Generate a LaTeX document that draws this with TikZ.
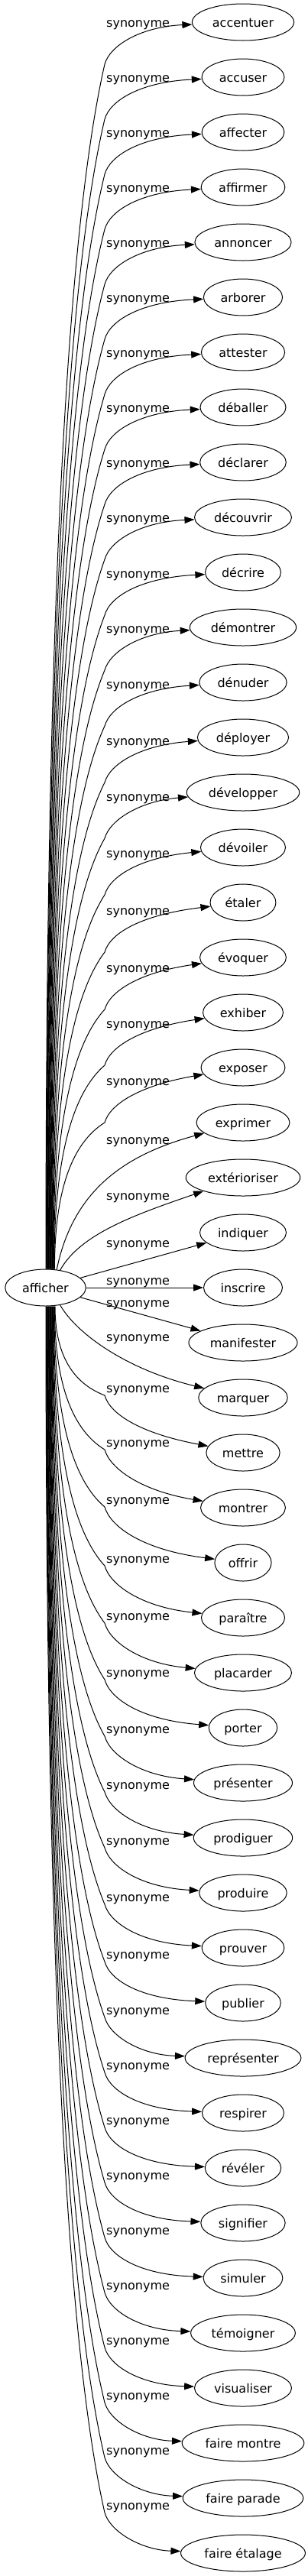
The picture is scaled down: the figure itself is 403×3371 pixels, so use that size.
\documentclass[tikz,border=0pt]{standalone}
\usepackage{fontspec}
\setmainfont{DejaVu Sans}
\usetikzlibrary{arrows.meta,shapes.geometric}
\begin{document}
\begin{tikzpicture}[x=1pt,y=-1pt,
  every node/.style={font=\fontsize{16}{19}\selectfont},
  target/.style={draw, ellipse, line width=1pt, minimum height=48pt, inner xsep=7pt, inner ysep=0pt, text height=12pt, text depth=0pt},
  lab/.style={anchor=base west, inner sep=0pt},
  edge/.style={line width=1pt, -{Triangle[length=13pt,width=9pt]}}]
\useasboundingbox (0,0) rectangle (403,3371);
\node[target] (afficher) at (59.5,1685) {afficher};
\foreach \k/\t in {0/accentuer,1/accuser,2/affecter,3/affirmer,4/annoncer,5/arborer,6/attester,7/déballer,8/déclarer,9/découvrir,10/décrire,11/démontrer,12/dénuder,13/déployer,14/développer,15/dévoiler,16/étaler,17/évoquer,18/exhiber,19/exposer,20/exprimer,21/extérioriser,22/indiquer,23/inscrire,24/manifester,25/marquer,26/mettre,27/montrer,28/offrir,29/paraître,30/placarder,31/porter,32/présenter,33/prodiguer,34/produire,35/prouver,36/publier,37/représenter,38/respirer,39/révéler,40/signifier,41/simuler,42/témoigner,43/visualiser,44/faire montre,45/faire parade,46/faire étalage}
  \node[target] (n\k) at (318,{29+72*\k}) {\t};
\foreach \k/\lo in {0/0,1/0,2/0,3/0,4/0,5/0,6/0,7/0,8/0,9/0,10/1,11/1,12/2,13/4,14/5,15/7,16/10,17/13,18/14,19/17,20/22,21/23,22/13,23/-10,24/-53,25/-80,26/-85,27/-86,28/-83,29/-78,30/-75,31/-73,32/-71,33/-70,34/-69,35/-67,36/-64,37/-63,38/-63,39/-63,40/-63,41/-63,42/-63,43/-63,44/-63,45/-63,46/-63}
  \node[lab] (l\k) at (139,{29+72*\k+(\lo)+6}) {synonyme};
% upper edges
\foreach \k/\lo in {0/0,1/0,2/0,3/0,4/0,5/0,6/0,7/0,8/0,9/0,10/1,11/1,12/2,13/4,14/5,15/7,16/10,17/13,18/14,19/17} {
  \pgfmathsetmacro\eYk{29+72*\k}
  \pgfmathsetmacro\esx{0.5+0.6*\k}
  \pgfmathsetmacro\eSx{59.5+\esx}
  \pgfmathsetmacro\eBy{\eYk+\lo+55}
  \pgfmathsetmacro\eD{1661-\eBy}
  \pgfmathsetmacro\eCay{1661-0.5*\eD}
  \pgfmathsetmacro\eCbx{\eSx+0.3*(137-\eSx)}
  \pgfmathsetmacro\eCby{\eBy+0.15*\eD}
  \pgfmathsetmacro\eCcy{\eBy-25}
  \pgfmathsetmacro\eCdy{\eYk+\lo+6}
  \draw[edge] ([xshift=\esx pt]afficher.north) .. controls (\eSx,\eCay) and (\eCbx,\eCby) .. (137,\eBy) .. controls (144,\eCcy) and (185,\eCdy) .. (n\k);
}
% middle edges
\draw[edge] (afficher.58) .. controls (95,1560) and (160,1512) .. (n20);
\draw[edge] (afficher.50) .. controls (105,1615) and (175,1590) .. (n21);
\draw[edge] (afficher) -- (n22);
\draw[edge] (afficher) -- (n23);
\draw[edge] (afficher) -- (n24);
\draw[edge] (afficher.-50) .. controls (100,1745) and (165,1792) .. (n25);
% lower edges
\foreach \k/\lo/\eo in {26/-85/-25,27/-86/-22,28/-83/-17,29/-78/-14,30/-75/-12,31/-73/-10,32/-71/-9,33/-70/-8,34/-69/-7,35/-67/-6,36/-64/-5,37/-63/-4,38/-63/-4,39/-63/-4,40/-63/-4,41/-63/-4,42/-63/-4,43/-63/-4,44/-63/-4,45/-63/-4,46/-63/-4} {
  \pgfmathsetmacro\eYk{29+72*\k}
  \pgfmathsetmacro\esx{0.5+0.6*(46-\k)}
  \pgfmathsetmacro\eSx{59.5+\esx}
  \pgfmathsetmacro\eBy{\eYk+(\lo)+10}
  \pgfmathsetmacro\eD{\eBy-1709}
  \pgfmathsetmacro\eCay{1709+0.5*\eD}
  \pgfmathsetmacro\eCbx{\eSx+0.3*(137-\eSx)}
  \pgfmathsetmacro\eCby{\eBy-0.15*\eD}
  \pgfmathsetmacro\eCcy{\eBy+25}
  \pgfmathsetmacro\eCdy{\eYk+(\eo)}
  \draw[edge] ([xshift=\esx pt]afficher.south) .. controls (\eSx,\eCay) and (\eCbx,\eCby) .. (137,\eBy) .. controls (144,\eCcy) and (185,\eCdy) .. (n\k);
}
\end{tikzpicture}
\end{document}
